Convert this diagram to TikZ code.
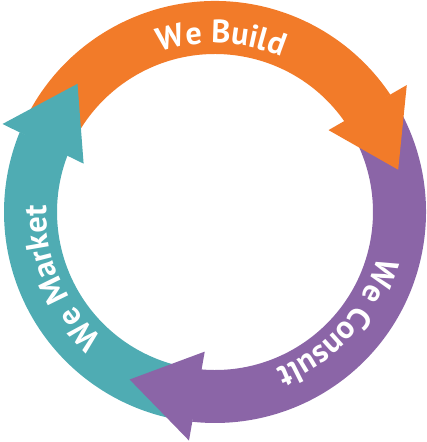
\documentclass[tikz,border=0pt]{standalone}
\usepackage{fontspec}
\setmainfont{PT Sans}
\usetikzlibrary{decorations.text}

\definecolor{buildorange}{HTML}{F27B29}
\definecolor{consultpurple}{HTML}{8B65A7}
\definecolor{marketteal}{HTML}{4FACB3}
\newcommand{\cyclefont}{\fontsize{23}{23}\selectfont\bfseries}

\tikzset{
  cyclelabel/.style={decorate, decoration={text along path, text align=center,
      text color=white, text={|\cyclefont|#1}}}
}

\begin{document}
\begin{tikzpicture}
\useasboundingbox (-5.375,-5.75) rectangle (5.3,5.3);

% shafts first, heads on top of the next tail
\foreach \col/\a/\b in {buildorange/157/35, consultpurple/33/-95, marketteal/-97/-201}
  \fill[\col] (\a:5.275) arc[start angle=\a, end angle={\b-1.2}, radius=5.275]
    -- ({\b-1.2}:3.95) arc[start angle={\b-1.2}, end angle=\a, radius=3.95] -- cycle;

\foreach \col/\b/\c in {buildorange/35/13, consultpurple/-95/-117, marketteal/-201/-223}
  \fill[\col] ({\b-1.5}:5.75) -- (\c:4.7) -- ({\b+0.8}:3.5) -- cycle;

\path[cyclelabel=We Build] (148:4.22) arc[start angle=148, end angle=28, radius=4.22];
\path[cyclelabel=We Consult] (18:4.22) arc[start angle=18, end angle=-102, radius=4.22];
\path[cyclelabel=We Market] (263:4.22) arc[start angle=263, end angle=143, radius=4.22];
\end{tikzpicture}
\end{document}
